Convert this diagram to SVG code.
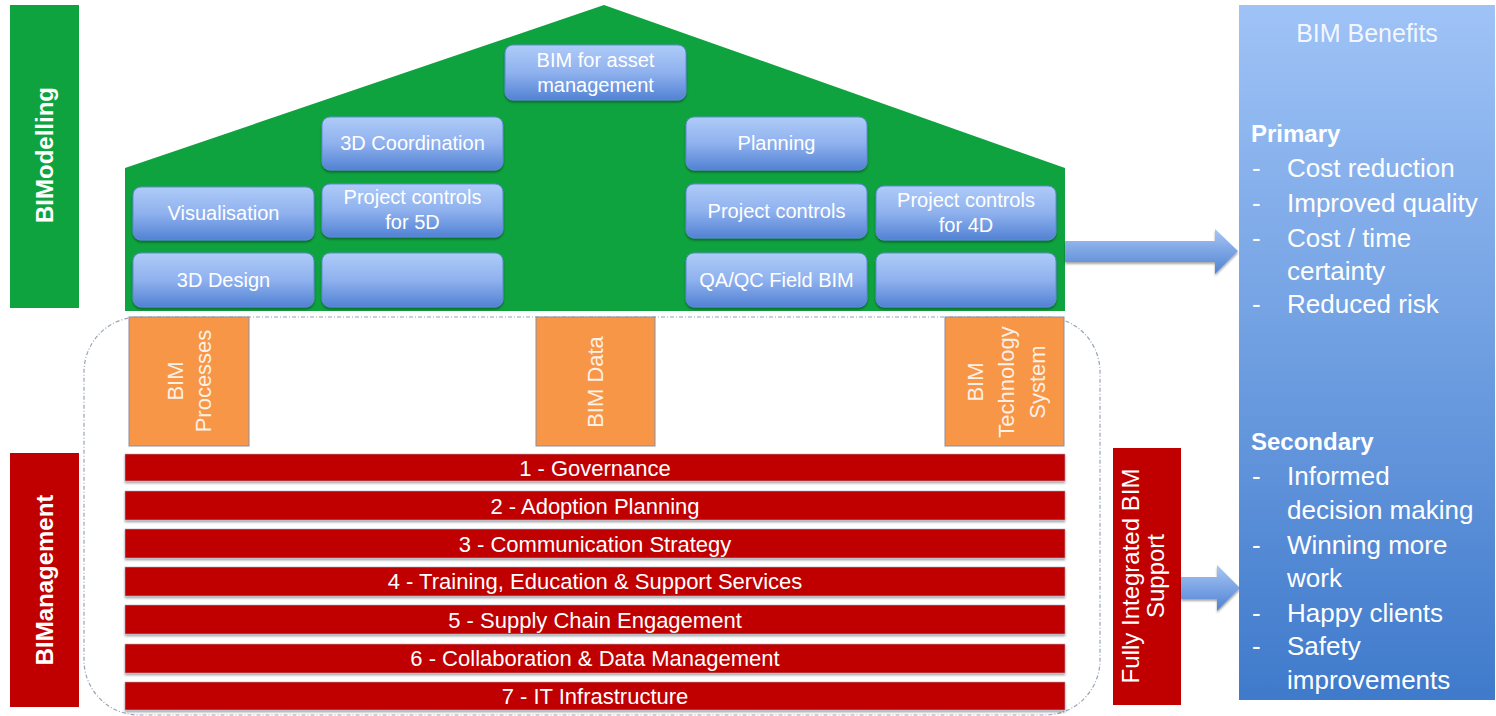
<svg xmlns="http://www.w3.org/2000/svg" width="1496" height="716" viewBox="0 0 1496 716">
<style>
text{font-family:"Liberation Sans",Arial,sans-serif;fill:#fff}
.bx{fill:url(#gBox);stroke:#5f8ad6;stroke-width:1;filter:url(#sh)}
.bt{font-size:20px;text-anchor:middle}
.red{fill:#c00000;stroke:#a8a8c0;stroke-width:0.6;filter:url(#sh)}
.rt{font-size:22px;text-anchor:middle}
.or{fill:#f79646;stroke:#8a8fa0;stroke-width:1}
.ot{font-size:22px;text-anchor:middle;fill:#fdf0e6}
.vt{font-size:24px;font-weight:bold;text-anchor:middle}
.bn{font-size:26px}
.bh{font-size:24px;font-weight:bold}
.arr{fill:url(#gArr);filter:url(#sh)}
</style>
<defs>
<linearGradient id="gBox" x1="0" y1="0" x2="0" y2="1">
<stop offset="0" stop-color="#aecbf8"/><stop offset="0.5" stop-color="#8fb1ee"/><stop offset="1" stop-color="#5282d4"/>
</linearGradient>
<linearGradient id="gArr" x1="0" y1="0" x2="0" y2="1">
<stop offset="0" stop-color="#a8c6f5"/><stop offset="1" stop-color="#4f82d2"/>
</linearGradient>
<linearGradient id="gBen" x1="0" y1="0" x2="0" y2="1">
<stop offset="0" stop-color="#9fc3f7"/><stop offset="1" stop-color="#3f7acb"/>
</linearGradient>
<filter id="sh" x="-10%" y="-20%" width="120%" height="150%">
<feDropShadow dx="0" dy="2" stdDeviation="1.2" flood-color="#000" flood-opacity="0.35"/>
</filter>
</defs>

<g id="bimodelling">
<rect x="10" y="5" width="69" height="303" fill="#0fa33f"/>
<text class="vt" transform="translate(53,155) rotate(-90)">BIModelling</text>
</g>

<g id="house">
<polygon points="125,311 125,168 604,5 1065,168 1065,311" fill="#0fa33f"/>
</g>

<g id="frame">
<rect x="84" y="317" width="1016" height="398" rx="55" fill="none" stroke="#98a4b6" stroke-width="1.2" stroke-dasharray="4 2 1 2"/>
</g>

<g id="n-asset"><rect class="bx" x="505" y="45" width="181" height="55" rx="8"/>
<text class="bt" x="595.5" y="67">BIM for asset</text><text class="bt" x="595.5" y="92">management</text></g>
<g id="n-3dcoord"><rect class="bx" x="322" y="117" width="181" height="53" rx="8"/>
<text class="bt" x="412.5" y="150">3D Coordination</text></g>
<g id="n-planning"><rect class="bx" x="686" y="117" width="181" height="53" rx="8"/>
<text class="bt" x="776.5" y="150">Planning</text></g>
<g id="n-visualisation"><rect class="bx" x="133" y="187" width="181" height="53" rx="8"/>
<text class="bt" x="223.5" y="220">Visualisation</text></g>
<g id="n-pc5d"><rect class="bx" x="322" y="184" width="181" height="53" rx="8"/>
<text class="bt" x="412.5" y="204">Project controls</text><text class="bt" x="412.5" y="229">for 5D</text></g>
<g id="n-pc"><rect class="bx" x="686" y="184" width="181" height="54" rx="8"/>
<text class="bt" x="776.5" y="218">Project controls</text></g>
<g id="n-pc4d"><rect class="bx" x="876" y="186" width="180" height="54" rx="8"/>
<text class="bt" x="966" y="207">Project controls</text><text class="bt" x="966" y="232">for 4D</text></g>
<g id="n-3ddesign"><rect class="bx" x="133" y="253" width="181" height="54" rx="8"/>
<text class="bt" x="223.5" y="287">3D Design</text></g>
<g id="n-empty1"><rect class="bx" x="322" y="253" width="181" height="54" rx="8"/></g>
<g id="n-qaqc"><rect class="bx" x="686" y="253" width="181" height="54" rx="8"/>
<text class="bt" x="776.5" y="287">QA/QC Field BIM</text></g>
<g id="n-empty2"><rect class="bx" x="876" y="253" width="180" height="54" rx="8"/></g>

<g id="n-processes"><rect class="or" x="129" y="317" width="120" height="129"/>
<text class="ot" transform="translate(183,381) rotate(-90)">BIM</text>
<text class="ot" transform="translate(211,381) rotate(-90)">Processes</text></g>
<g id="n-data"><rect class="or" x="536" y="317" width="119" height="129"/>
<text class="ot" transform="translate(603,382) rotate(-90)">BIM Data</text></g>
<g id="n-tech"><rect class="or" x="945" y="317" width="119" height="129"/>
<text class="ot" transform="translate(983,382) rotate(-90)">BIM</text>
<text class="ot" transform="translate(1014,382) rotate(-90)">Technology</text>
<text class="ot" transform="translate(1045,382) rotate(-90)">System</text></g>

<g id="n-bars">
<rect class="red" x="125" y="454" width="940" height="27"/><text class="rt" x="595" y="476">1 - Governance</text>
<rect class="red" x="125" y="491" width="940" height="29"/><text class="rt" x="595" y="514">2 - Adoption Planning</text>
<rect class="red" x="125" y="529" width="940" height="29"/><text class="rt" x="595" y="552">3 - Communication Strategy</text>
<rect class="red" x="125" y="567" width="940" height="29"/><text class="rt" x="595" y="589">4 - Training, Education &amp; Support Services</text>
<rect class="red" x="125" y="605" width="940" height="29"/><text class="rt" x="595" y="628">5 - Supply Chain Engagement</text>
<rect class="red" x="125" y="644" width="940" height="29"/><text class="rt" x="595" y="666">6 - Collaboration &amp; Data Management</text>
<rect class="red" x="125" y="682" width="940" height="28"/><text class="rt" x="595" y="704">7 - IT Infrastructure</text>
</g>

<g id="bimanagement">
<rect x="10" y="453" width="69" height="254" fill="#c00000"/>
<text class="vt" transform="translate(53,580) rotate(-90)">BIManagement</text>
</g>

<g id="n-support">
<rect x="1113" y="448" width="68" height="257" fill="#c00000"/>
<text style="font-size:24px;text-anchor:middle" transform="translate(1139,576) rotate(-90)">Fully Integrated BIM</text>
<text style="font-size:24px;text-anchor:middle" transform="translate(1164,576) rotate(-90)">Support</text>
</g>

<g id="connectors">
<polygon class="arr" points="1065,241 1215,241 1215,229 1238,251 1215,274 1215,262 1065,262"/>
<polygon class="arr" points="1181,577 1217,577 1217,565 1240,588 1217,611 1217,599 1181,599"/>
</g>

<g id="n-benefits">
<rect x="1239" y="5" width="256" height="695" fill="url(#gBen)"/>
<text x="1367" y="42" text-anchor="middle" fill-opacity="0.9" style="font-size:25px">BIM Benefits</text>
<text class="bh" x="1251" y="142">Primary</text>
<g class="bn">
<text x="1252" y="177">-</text><text x="1287" y="177">Cost reduction</text>
<text x="1252" y="212">-</text><text x="1287" y="212">Improved quality</text>
<text x="1252" y="247">-</text><text x="1287" y="247">Cost / time</text>
<text x="1287" y="280">certainty</text>
<text x="1252" y="313">-</text><text x="1287" y="313">Reduced risk</text>
</g>
<text class="bh" x="1251" y="450">Secondary</text>
<g class="bn">
<text x="1252" y="485">-</text><text x="1287" y="485">Informed</text>
<text x="1287" y="519">decision making</text>
<text x="1252" y="554">-</text><text x="1287" y="554">Winning more</text>
<text x="1287" y="587">work</text>
<text x="1252" y="622">-</text><text x="1287" y="622">Happy clients</text>
<text x="1252" y="655">-</text><text x="1287" y="655">Safety</text>
<text x="1287" y="689">improvements</text>
</g>
</g>
</svg>
